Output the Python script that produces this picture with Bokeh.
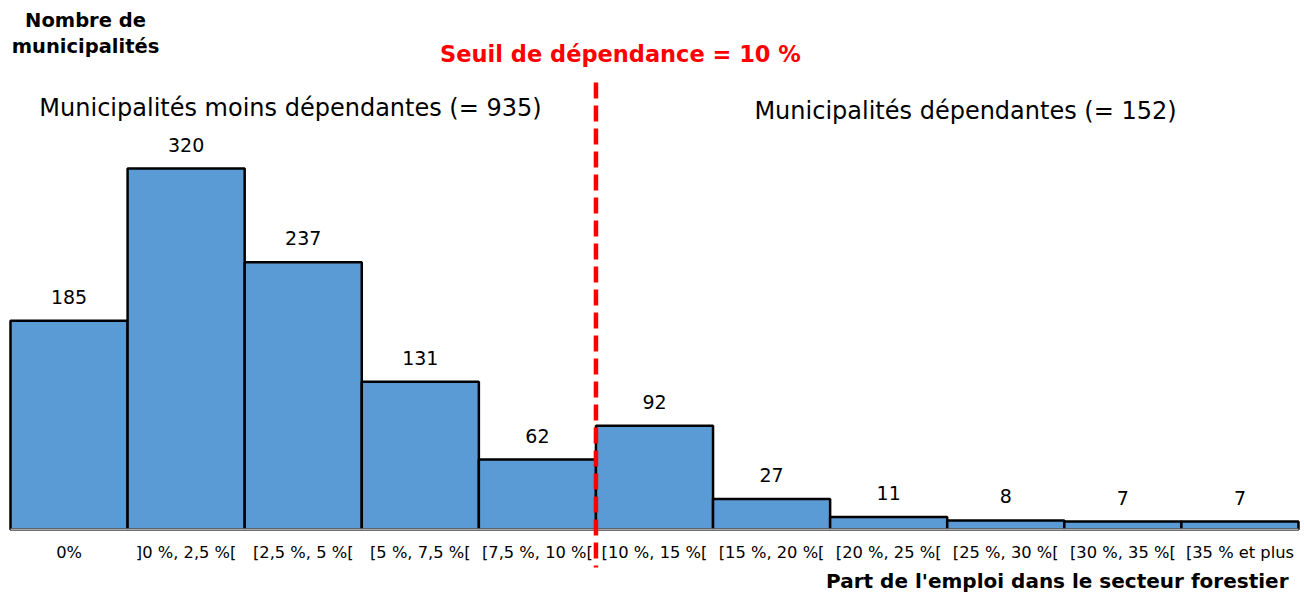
from bokeh.plotting import figure
from bokeh.models import Range1d, ColumnDataSource
from bokeh.core.properties import value
from bokeh.embed import file_html
from bokeh.resources import INLINE

# ---------------- data ----------------
categories = ["0%", "]0 %, 2,5 %[", "[2,5 %, 5 %[", "[5 %, 7,5 %[", "[7,5 %, 10 %[",
              "[10 %, 15 %[", "[15 %, 20 %[", "[20 %, 25 %[", "[25 %, 30 %[",
              "[30 %, 35 %[", "[35 % et plus"]
counts = [185, 320, 237, 131, 62, 92, 27, 11, 8, 7, 7]
threshold_index = 5          # boundary between "< 10 %" and ">= 10 %"
less_dependent = 935
dependent = 152

y_title = ["Nombre de", "municipalités"]
x_title = "Part de l'emploi dans le secteur forestier"
threshold_title = "Seuil de dépendance = 10 %"

FONT = "DejaVu Sans"

# ---------------- geometry helpers (canvas px -> data) ----------------
W, H = 1302, 594
X0, BW = 10.0, 117.09      # canvas x of data 0, px per category
Y0, K = 529.0, 1.1281      # canvas y of data 0, px per unit

def dx(px):
    return (px - X0) / BW

def dy(py):
    return (Y0 - py) / K

p = figure(width=W, height=H, output_backend="svg", toolbar_location=None,
           x_axis_location=None, y_axis_location=None, min_border=0,
           x_range=Range1d(dx(0), dx(W)), y_range=Range1d(dy(H), dy(0)))
p.grid.visible = False
p.outline_line_color = None
p.background_fill_color = "white"
p.border_fill_color = "white"

n = len(categories)
src = ColumnDataSource(dict(
    left=list(range(n)), right=[i + 1 for i in range(n)],
    mid=[i + 0.5 for i in range(n)], top=counts, zero=[0] * n,
    lab=[str(c) for c in counts], cat=categories))

p.quad(left="left", right="right", bottom="zero", top="top", source=src,
       fill_color="#5B9BD5", line_color="black", line_width=2.5)

# baseline
p.segment(x0=[0], y0=[0], x1=[n], y1=[0], line_color="#A6A6A6", line_width=2)

# value labels
p.text(x="mid", y="top", text="lab", source=src, text_align="center",
       text_baseline="middle", y_offset=-24, text_font=value(FONT),
       text_font_size="19px", text_color="black")

# tick labels
p.text(x="mid", y="zero", text="cat", source=src, text_align="center",
       text_baseline="middle", y_offset=23, text_font=value(FONT),
       text_font_size="16.3px", text_color="black")

# threshold line
p.segment(x0=[threshold_index], y0=[dy(82)], x1=[threshold_index], y1=[dy(567)],
          line_color="#FF0000", line_width=4.5, line_dash="16 7")

# annotations
p.text(x=[dx(620)], y=[dy(53)], text=[threshold_title], text_align="center",
       text_baseline="middle", text_font=value(FONT), text_font_style="bold",
       text_font_size="22.5px", text_color="#FF0000")
p.text(x=[dx(290)], y=[dy(107)], text=[f"Municipalités moins dépendantes (= {less_dependent})"],
       text_align="center", text_baseline="middle", text_font=value(FONT),
       text_font_size="24px", text_color="black")
p.text(x=[dx(965)], y=[dy(110)], text=[f"Municipalités dépendantes (= {dependent})"],
       text_align="center", text_baseline="middle", text_font=value(FONT),
       text_font_size="24px", text_color="black")
p.text(x=[dx(85), dx(85)], y=[dy(20), dy(46)], text=y_title, text_align="center",
       text_baseline="middle", text_font=value(FONT), text_font_style="bold",
       text_font_size="19.5px", text_color="black")
p.text(x=[dx(1288)], y=[dy(580)], text=[x_title], text_align="right",
       text_baseline="middle", text_font=value(FONT), text_font_style="bold",
       text_font_size="20px", text_color="black")

open("out.html", "w").write(file_html(p, INLINE))
